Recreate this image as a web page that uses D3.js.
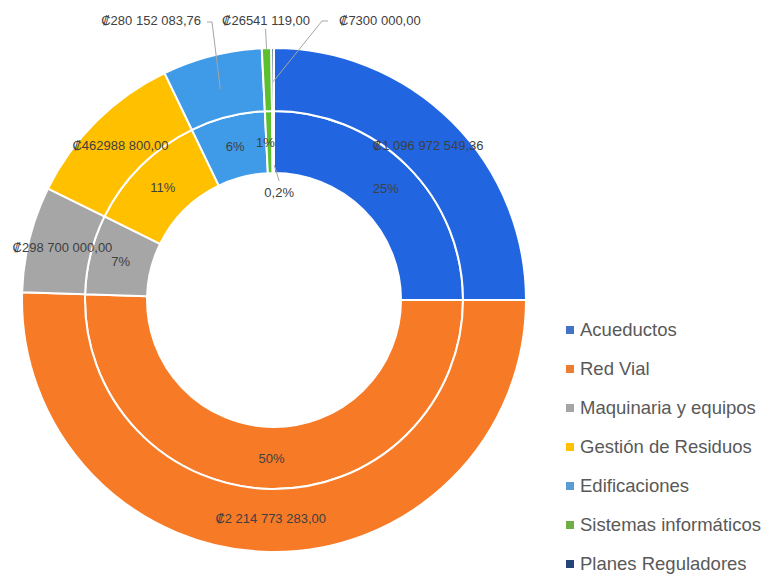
<!DOCTYPE html>
<html>
<head>
<meta charset="utf-8">
<script src="https://cdn.jsdelivr.net/npm/d3@7"></script>
<style>
body { margin: 0; background: #fff; }
text { font-family: "Liberation Sans", "DejaVu Sans", sans-serif; }
</style>
</head>
<body>
<div id="graph"></div>
<script>
// chart data
var categories = ["Acueductos", "Red Vial", "Maquinaria y equipos", "Gestión de Residuos",
  "Edificaciones", "Sistemas informáticos", "Planes Reguladores"];
var values = [1096972549.36, 2214773283.00, 298700000.00, 462988800.00,
  280152083.76, 26541119.00, 7300000.00];
var valueLabels = ["₡1 096 972 549,36", "₡2 214 773 283,00", "₡298 700 000,00", "₡462988 800,00",
  "₡280 152 083,76", "₡26541 119,00", "₡7300 000,00"];
var pctLabels = ["25%", "50%", "7%", "11%", "6%", "1%", "0,2%"];
var sliceColors = ["#2166e0", "#f77b27", "#a6a6a6", "#ffc000", "#3f9be8", "#5bbf2e", "#264478"];
var legendColors = ["#4472c4", "#ed7d31", "#a5a5a5", "#ffc000", "#5b9bd5", "#70ad47", "#264478"];

var width = 769, height = 574;
var cx = 274, cy = 300;
var rHole = 127, rMid = 189, rOut = 252;

var svg = d3.select("#graph").append("svg")
  .attr("width", width)
  .attr("height", height);

var g = svg.append("g")
  .attr("transform", "translate(" + cx + "," + cy + ")");

var pie = d3.pie().sort(null).value(function(d) { return d; });
var arcs = pie(values);

var innerArc = d3.arc().innerRadius(rHole).outerRadius(rMid);
var outerArc = d3.arc().innerRadius(rMid).outerRadius(rOut);
var innerLab = d3.arc().innerRadius(rHole).outerRadius(rMid);
var outerLab = d3.arc().innerRadius(rMid + 1).outerRadius(rOut - 6);

// rings
[innerArc, outerArc].forEach(function(arc) {
  g.append("g").selectAll("path")
    .data(arcs)
    .enter().append("path")
    .attr("d", arc)
    .attr("fill", function(d, i) { return sliceColors[i]; })
    .attr("stroke", "#fff")
    .attr("stroke-width", 2);
});

// labels placed off the slice (small slices)
var callouts = {
  4: {tx: -73, ty: -280, anchor: "end", line: "outer"},
  5: {tx: -8, ty: -280, anchor: "middle", line: "edge"},
  6: {tx: 65, ty: -280, anchor: "start", line: "outer"}
};

// outer ring value labels
g.append("g").selectAll("text")
  .data(arcs)
  .enter().append("text")
  .attr("transform", function(d, i) {
    if (callouts[i]) return "translate(" + callouts[i].tx + "," + callouts[i].ty + ")";
    return "translate(" + outerLab.centroid(d) + ")";
  })
  .attr("dy", "0.35em")
  .attr("text-anchor", function(d, i) { return callouts[i] ? callouts[i].anchor : "middle"; })
  .attr("font-size", 13)
  .attr("fill", "#404040")
  .text(function(d, i) { return valueLabels[i]; });

// leader lines for the callouts
var leaders = g.append("g").attr("fill", "none").attr("stroke", "#a6a6a6").attr("stroke-width", 1);
Object.keys(callouts).forEach(function(k) {
  var c = callouts[k], d = arcs[k];
  var p = outerLab.centroid(d);
  if (c.line === "edge") {
    var a = (d.startAngle + d.endAngle) / 2;
    var q = [Math.sin(a) * rOut, -Math.cos(a) * (rOut - 1)];
    leaders.append("path").attr("d", d3.line()([[q[0] - 1, c.ty + 9], q]));
  } else if (c.anchor === "end") {
    leaders.append("path").attr("d", d3.line()([[c.tx + 6, c.ty + 2], [c.tx + 11, c.ty + 2], p]));
  } else {
    leaders.append("path").attr("d", d3.line()([[c.tx - 11, c.ty + 1], [c.tx - 17, c.ty + 1], p]));
  }
});

// inner ring percentage labels
g.append("g").selectAll("text")
  .data(arcs)
  .enter().append("text")
  .attr("transform", function(d, i) {
    var p = innerLab.centroid(d);
    if (i === 5) p = [p[0] - 4, p[1]];
    if (i === 6) p = [p[0] + 6, -rHole + 19];
    return "translate(" + p + ")";
  })
  .attr("dy", "0.35em")
  .attr("text-anchor", "middle")
  .attr("font-size", 13)
  .attr("fill", "#404040")
  .text(function(d, i) { return pctLabels[i]; });

// leader for 0,2%
var c6 = innerLab.centroid(arcs[6]);
leaders.append("path").attr("d", d3.line()([[c6[0] + 1, -rHole - 8], [c6[0] + 6, -rHole + 8]]));

// legend
var legend = svg.append("g").attr("transform", "translate(566,330)");
var item = legend.selectAll("g")
  .data(categories)
  .enter().append("g")
  .attr("transform", function(d, i) { return "translate(0," + i * 39 + ")"; });
item.append("rect")
  .attr("x", 0).attr("y", -4)
  .attr("width", 8).attr("height", 8)
  .attr("fill", function(d, i) { return legendColors[i]; });
item.append("text")
  .attr("x", 14)
  .attr("dy", "0.35em")
  .attr("font-size", 18.5)
  .attr("fill", "#595959")
  .text(function(d) { return d; });
</script>
</body>
</html>
